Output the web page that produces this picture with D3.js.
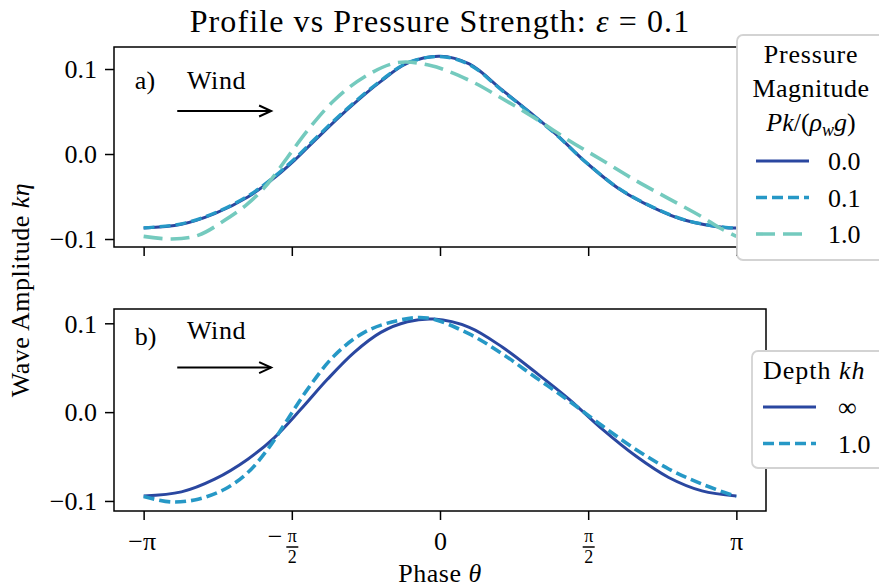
<!DOCTYPE html>
<html>
<head>
<meta charset="utf-8">
<title>Profile vs Pressure Strength</title>
<style>
  body { margin: 0; background: #fff; }
  svg { font-family: "Liberation Serif", "DejaVu Serif", serif; }
  .spine { fill: none; stroke: #000; stroke-width: 1.5px; }
  .tick line { stroke: #000; stroke-width: 1.5px; }
  .tick text { fill: #000; }
  .domain { display: none; }
</style>
</head>
<body>
<script src="https://cdn.jsdelivr.net/npm/d3@7"></script>
<script>
// ---- data (theta in radians, amplitude k*eta) ----
var PI = Math.PI;

// panel a) pressure magnitude
var thetaP00 = [-PI, -2.741, -2.389, -2.037, -1.790, -1.543, -1.332, -0.980, -0.627, -0.345, 0.0, 0.310, 0.663, 1.015, 1.244, 1.543, 1.896, 2.248, 2.600, 3.058, PI];
var etaP00   = [-0.087, -0.0827, -0.0702, -0.0506, -0.031, -0.0074, 0.0155, 0.0525, 0.0855, 0.1068, 0.1151, 0.106, 0.075, 0.0435, 0.022, -0.0094, -0.0408, -0.0624, -0.078, -0.087, -0.087];
var etaP01   = [-0.0868, -0.0822, -0.0694, -0.0494, -0.0296, -0.0058, 0.0171, 0.0539, 0.0864, 0.1073, 0.1146, 0.1052, 0.0742, 0.0428, 0.0215, -0.0094, -0.0405, -0.062, -0.0777, -0.0867, -0.0868];
var thetaP10 = [-PI, -2.847, -2.565, -2.283, -2.037, -1.826, -1.614, -1.403, -1.121, -0.803, -0.451, -0.1, 0.31, 0.663, 1.015, 1.367, 1.720, 2.072, 2.424, 2.777, 2.95, PI];
var etaP10   = [-0.0969, -0.1, -0.0957, -0.078, -0.0584, -0.035, -0.0035, 0.0279, 0.0632, 0.0906, 0.1075, 0.104, 0.0867, 0.065, 0.0416, 0.016, -0.0074, -0.031, -0.0525, -0.074, -0.086, -0.0969];

// panel b) depth
var thetaDinf = [-PI, -2.741, -2.389, -2.037, -1.755, -1.473, -1.191, -0.909, -0.627, -0.345, -0.063, 0.31, 0.663, 1.015, 1.367, 1.720, 2.072, 2.424, 2.777, PI];
var etaDinf   = [-0.0944, -0.0898, -0.0755, -0.053, -0.0286, 0.0034, 0.0372, 0.0673, 0.0898, 0.1018, 0.1048, 0.0955, 0.073, 0.0447, 0.0147, -0.0192, -0.0492, -0.0736, -0.0887, -0.0944];
var thetaD1   = [-PI, -2.847, -2.565, -2.283, -2.037, -1.826, -1.614, -1.403, -1.121, -0.803, -0.451, -0.134, 0.31, 0.663, 1.015, 1.367, 1.720, 2.072, 2.424, 2.777, PI];
var etaD1     = [-0.095, -0.1011, -0.098, -0.0868, -0.068, -0.0417, -0.0079, 0.0259, 0.0635, 0.0898, 0.103, 0.106, 0.088, 0.0654, 0.039, 0.0127, -0.0154, -0.0417, -0.064, -0.081, -0.095];

var yTicks = [-0.1, 0.0, 0.1];
var xTicks = [-PI, -PI / 2, 0, PI / 2, PI];
var xTickLabels = [["−", "π", null], ["−", "π", "2"], ["", "0", null], ["", "π", "2"], ["", "π", null]];
var pressureLabels = ["0.0", "0.1", "1.0"];
var depthLabels = ["∞", "1.0"];

var cDark = "#2a47a0", cMid = "#2698c6", cLight = "#74cabe";

var width = 879, height = 587;
var left = 114, right = 766;

var svg = d3.select("body").append("svg")
	.attr("width", width)
	.attr("height", height);

var x = d3.scaleLinear().domain([-1.1 * PI, 1.1 * PI]).range([left, right]);
var yA = d3.scaleLinear().domain([-0.1094, 0.1259]).range([247, 47]);
var yB = d3.scaleLinear().domain([-0.1113, 0.1161]).range([511, 309]);

function fmtY(d) {
	if (d === 0) return "0.0";
	return (d < 0 ? "−" : "") + Math.abs(d).toFixed(1);
}

function panel(y, series, tag, showX) {
	var g = svg.append("g");
	var top = y.range()[1], bot = y.range()[0];

	var ya = g.append("g")
		.attr("transform", "translate(" + left + ",0)")
		.call(d3.axisLeft(y).tickValues(yTicks).tickSize(9).tickSizeOuter(0).tickPadding(8).tickFormat(fmtY));
	ya.selectAll(".tick text").attr("font-size", 26).attr("font-family", "Liberation Serif").attr("dy", "0.34em");

	var xa = g.append("g")
		.attr("transform", "translate(0," + bot + ")")
		.call(d3.axisBottom(x).tickValues(xTicks).tickSize(9).tickSizeOuter(0).tickFormat(""));

	if (showX) {
		xa.selectAll(".tick").each(function (d, i) {
			var lab = xTickLabels[i], t = d3.select(this);
			if (lab[2] === null) {
				t.append("text").attr("y", 39).attr("text-anchor", "middle").attr("font-size", 26)
					.attr("font-family", "Liberation Serif").attr("fill", "#000")
					.text(lab[0] + lab[1]).attr("dx", lab[0] ? -2 : 0);
			} else {
				if (lab[0]) t.append("text").attr("x", -10).attr("y", 34).attr("text-anchor", "end")
					.attr("font-size", 26).attr("font-family", "Liberation Serif").attr("fill", "#000").text(lab[0]);
				t.append("text").attr("y", 31).attr("text-anchor", "middle").attr("font-size", 18)
					.attr("font-family", "Liberation Serif").attr("fill", "#000").text(lab[1]);
				t.append("line").attr("x1", -6).attr("x2", 6).attr("y1", 36).attr("y2", 36)
					.attr("stroke", "#000").attr("stroke-width", 1);
				t.append("text").attr("y", 52).attr("text-anchor", "middle").attr("font-size", 18)
					.attr("font-family", "Liberation Serif").attr("fill", "#000").text(lab[2]);
			}
		});
	}

	var line = d3.line().curve(d3.curveCatmullRom.alpha(0.5))
		.x(function (d) { return x(d[0]); })
		.y(function (d) { return y(d[1]); });

	series.forEach(function (s) {
		g.append("path")
			.datum(d3.zip(s.theta, s.eta))
			.attr("d", line)
			.attr("fill", "none")
			.attr("stroke", s.color)
			.attr("stroke-width", s.width)
			.attr("stroke-dasharray", s.dash)
			.attr("stroke-linecap", "butt");
	});

	g.append("rect").attr("class", "spine")
		.attr("x", left).attr("y", top).attr("width", right - left).attr("height", bot - top);

	// panel tag, wind label and arrow (axes fractions)
	var ax = d3.scaleLinear().domain([0, 1]).range([left, right]);
	var ay = d3.scaleLinear().domain([0, 1]).range([bot, top]);
	var off = showX ? 0.03 : 0;
	g.append("text").attr("x", ax(0.032)).attr("y", ay(0.79 + off)).attr("font-size", 26).text(tag);
	g.append("text").attr("x", ax(0.112)).attr("y", ay(0.79 + (showX ? 0.06 : 0)))
		.attr("font-size", 26).attr("letter-spacing", 0.6).text("Wind");
	var ya0 = ay(0.68 + (showX ? 0.03 : 0));
	g.append("line").attr("x1", ax(0.097)).attr("x2", ax(0.241)).attr("y1", ya0).attr("y2", ya0)
		.attr("stroke", "#000").attr("stroke-width", 2);
	g.append("path")
		.attr("d", "M" + (ax(0.241) - 12) + "," + (ya0 - 5.5) + "L" + ax(0.241) + "," + ya0 + "L" + (ax(0.241) - 12) + "," + (ya0 + 5.5))
		.attr("fill", "none").attr("stroke", "#000").attr("stroke-width", 2);
}

panel(yA, [
	{ theta: thetaP00, eta: etaP00, color: cDark, width: 3, dash: null },
	{ theta: thetaP00, eta: etaP01, color: cMid, width: 3.3, dash: "11,5" },
	{ theta: thetaP10, eta: etaP10, color: cLight, width: 3.6, dash: "19,8" }
], "a)", false);

panel(yB, [
	{ theta: thetaDinf, eta: etaDinf, color: cDark, width: 3, dash: null },
	{ theta: thetaD1, eta: etaD1, color: cMid, width: 3.6, dash: "11,5" }
], "b)", true);

// title
var title = svg.append("text").attr("x", 440).attr("y", 32).attr("text-anchor", "middle")
	.attr("font-size", 32).attr("letter-spacing", 1.1);
title.append("tspan").text("Profile vs Pressure Strength: ");
title.append("tspan").attr("font-style", "italic").text("ε");
title.append("tspan").text(" = 0.1");

// axis labels
var yl = svg.append("text").attr("transform", "translate(29,290) rotate(-90)")
	.attr("text-anchor", "middle").attr("font-size", 26).attr("letter-spacing", 0.5);
yl.append("tspan").text("Wave Amplitude ");
yl.append("tspan").attr("font-style", "italic").text("kη");

var xl = svg.append("text").attr("x", 440).attr("y", 582).attr("text-anchor", "middle")
	.attr("font-size", 26).attr("letter-spacing", 0.5);
xl.append("tspan").text("Phase ");
xl.append("tspan").attr("font-style", "italic").text("θ");

// legend a)
var la = svg.append("g");
la.append("rect").attr("x", 737).attr("y", 35).attr("width", 150).attr("height", 225).attr("rx", 6)
	.attr("fill", "#fff").attr("stroke", "#d3d3d3").attr("stroke-width", 1.8);
la.append("text").attr("x", 811).attr("y", 63).attr("text-anchor", "middle").attr("font-size", 26).attr("letter-spacing", 0.8).text("Pressure");
la.append("text").attr("x", 811).attr("y", 97).attr("text-anchor", "middle").attr("font-size", 26).attr("letter-spacing", 0.5).text("Magnitude");
var lt = la.append("text").attr("x", 811).attr("y", 131).attr("text-anchor", "middle").attr("font-size", 26);
lt.append("tspan").attr("font-style", "italic").text("Pk");
lt.append("tspan").text("/(");
lt.append("tspan").attr("font-style", "italic").text("ρ");
lt.append("tspan").attr("font-style", "italic").attr("font-size", 18).attr("dy", 5).text("w");
lt.append("tspan").attr("font-style", "italic").attr("dy", -5).text("g");
lt.append("tspan").text(")");
var legA = [
	{ color: cDark, width: 3, dash: null },
	{ color: cMid, width: 3.3, dash: "11,5" },
	{ color: cLight, width: 3.6, dash: "19,8" }
];
legA.forEach(function (s, i) {
	var yy = 161 + i * 36.5;
	la.append("line").attr("x1", 756).attr("x2", 809).attr("y1", yy).attr("y2", yy)
		.attr("stroke", s.color).attr("stroke-width", s.width).attr("stroke-dasharray", s.dash);
	la.append("text").attr("x", 828).attr("y", yy + 9).attr("font-size", 26).text(pressureLabels[i]);
});

// legend b)
var lb = svg.append("g");
lb.append("rect").attr("x", 752).attr("y", 351).attr("width", 140).attr("height", 117).attr("rx", 6)
	.attr("fill", "#fff").attr("stroke", "#d3d3d3").attr("stroke-width", 1.8);
var dt = lb.append("text").attr("x", 763).attr("y", 379).attr("font-size", 26).attr("letter-spacing", 1);
dt.append("tspan").text("Depth ");
dt.append("tspan").attr("font-style", "italic").text("kh");
var legB = [
	{ color: cDark, width: 3, dash: null },
	{ color: cMid, width: 3.6, dash: "11,5" }
];
legB.forEach(function (s, i) {
	var yy = 407 + i * 36.5;
	lb.append("line").attr("x1", 763).attr("x2", 816).attr("y1", yy).attr("y2", yy)
		.attr("stroke", s.color).attr("stroke-width", s.width).attr("stroke-dasharray", s.dash);
	lb.append("text").attr("x", 838).attr("y", yy + 9).attr("font-size", 26).text(depthLabels[i]);
});
</script>
</body>
</html>
